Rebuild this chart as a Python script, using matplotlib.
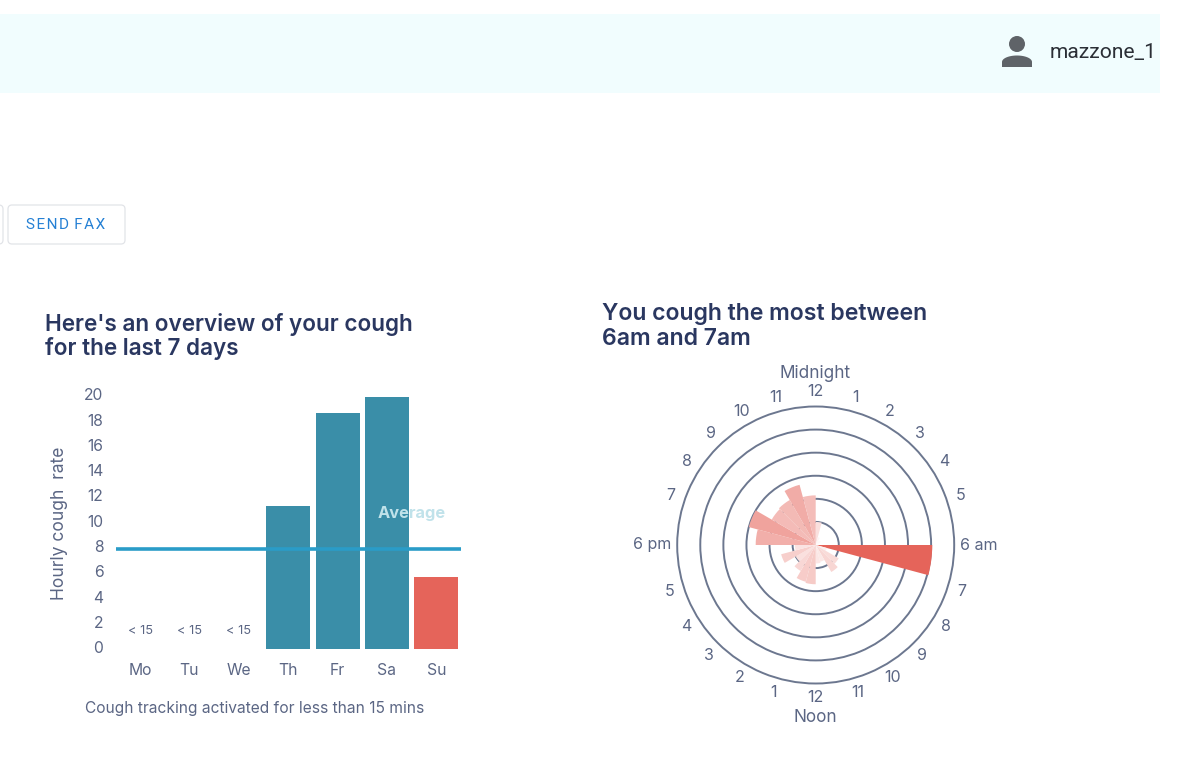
import numpy as np
import matplotlib
matplotlib.use("Agg")
import matplotlib.pyplot as plt
from matplotlib.patches import FancyBboxPatch, Circle, Polygon, Rectangle

W, H = 1200, 769

# ---- data ----
days = ["Mo", "Tu", "We", "Th", "Fr", "Sa", "Su"]
rates = [0, 0, 0, 11.3, 18.6, 19.9, 5.7]
short_label = "< 15"
short_days = [0, 1, 2]
short_label_y = 1.4
average = 7.9
y_ticks = list(range(0, 21, 2))
hour_counts = [1.0, 0.35, 0.2, 0.25, 0.15, 0.1, 5.05, 0.5, 1.15, 1.35, 0.75, 0.8,
               1.7, 1.65, 1.3, 1.0, 1.55, 0.9, 2.6, 3.0, 2.2, 2.25, 2.7, 2.15]
hour_labels = ["12", "1", "2", "3", "4", "5", "6 am", "7", "8", "9", "10", "11",
               "12", "1", "2", "3", "4", "5", "6 pm", "7", "8", "9", "10", "11"]
label_deg = [0, 15, 29, 43, 57, 71, 90, 107.5, 122, 136, 150, 164,
             180, 196, 210, 224, 238, 252.5, 270, 289, 303, 317, 331, 345]
rings = [1, 2, 3, 4, 5]
ring_max = 6

FONT = "Inter"
TXT = "#5b6684"
DARK = "#2a3760"
TEAL = "#3a8ea8"
RED = "#e5645a"
LINE = "#2a9cc8"
RING = "#6c778f"

fig = plt.figure(figsize=(W / 100, H / 100), dpi=100, facecolor="white")

bg = fig.add_axes([0, 0, 1, 1], zorder=0)
bg.set_xlim(0, W); bg.set_ylim(H, 0); bg.axis("off")
bg.add_patch(Rectangle((0, 14), 1160, 79, fc="#f1fdfe", ec="none"))
bg.add_patch(Circle((1017, 44), 8, fc="#5f6368", ec="none"))
t = np.linspace(0, np.pi, 40)
bg.add_patch(Polygon(np.c_[1017 + 15 * np.cos(t), 62 - 6.5 * np.sin(t)].tolist()
                     + [[1002, 67], [1032, 67]], closed=True, fc="#5f6368", ec="none"))
bg.text(1050, 53, "mazzone_1", family="Roboto", fontsize=15.1, color="#2b2f36", va="center", ha="left")
bg.add_patch(FancyBboxPatch((11, 208), 111, 33, boxstyle="round,pad=3,rounding_size=4",
                            fc="white", ec="#e2e4e8", lw=0.9))
bg.add_patch(FancyBboxPatch((-20, 208), 20, 33, boxstyle="round,pad=3,rounding_size=4",
                            fc="white", ec="#e2e4e8", lw=0.9))
hair = "\u200a"
bg.text(66, 225, hair.join("SEND") + " " + hair + hair.join("FAX"), family=["Roboto", "DejaVu Sans"],
        fontsize=11, color="#2580d4", ha="center", va="center")

for y, s in [(324, "Here's an overview of your cough"), (349, "for the last 7 days")]:
    bg.text(45, y, s, family=FONT, fontweight="semibold", fontsize=16.2, color=DARK, va="center")
for y, s in [(314, "You cough the most between"), (339, "6am and 7am")]:
    bg.text(602, y, s, family=FONT, fontweight="semibold", fontsize=16.6, color=DARK, va="center")
bg.text(85, 708, "Cough tracking activated for less than 15 mins", family=FONT, fontsize=11.2, color=TXT, va="center")
bg.text(815, 373, "Midnight", family=FONT, fontsize=12.4, color=TXT, ha="center", va="center")
bg.text(815, 717, "Noon", family=FONT, fontsize=12.4, color=TXT, ha="center", va="center")

# bar chart
L, R, T, B = 116, 461, 395.7, 648.7
ax = fig.add_axes([L / W, 1 - B / H, (R - L) / W, (B - T) / H], zorder=1)
ax.patch.set_alpha(0)
x = np.arange(len(days))
ax.bar(x, rates, width=0.89, color=[TEAL] * 6 + [RED])
ax.plot([-0.486, 6.5], [average, average], color=LINE, lw=2.6, solid_capstyle="butt", zorder=3)
ax.set_xlim(-0.486, 6.5); ax.set_ylim(0, 20)
ax.set_xticks(x, days, family=FONT, fontsize=11.3, color=TXT)
ax.set_yticks(y_ticks, [str(v) for v in y_ticks], family=FONT, fontsize=11.3, color=TXT)
ax.tick_params(length=0, axis="y", pad=9)
ax.tick_params(length=0, axis="x", pad=10)
for lab in ax.get_yticklabels():
    lab.set_verticalalignment("center")
for s in ax.spines.values():
    s.set_visible(False)
for i in short_days:
    ax.text(i, short_label_y, short_label, family=FONT, fontsize=9.2, color=TXT, ha="center", va="center")
ax.text(5.5, 10.7, "Average", family=FONT, fontweight="bold", fontsize=11.8, color="#c0e2ea",
        ha="center", va="center", zorder=4)
ax.set_ylabel("Hourly cough  rate", family=FONT, fontsize=12.6, color=TXT)
ax.yaxis.set_label_coords((68 - L) / (R - L), (B - 523) / (B - T))

# polar chart
cx, cy, rad = 815.7, 545, 138.5
pa = fig.add_axes([(cx - rad) / W, 1 - (cy + rad) / H, 2 * rad / W, 2 * rad / H], projection="polar", zorder=1)
pa.patch.set_alpha(0)
pa.set_theta_zero_location("N"); pa.set_theta_direction(-1)
step = 2 * np.pi / len(hour_counts)
theta = np.arange(len(hour_counts)) * step
vmax = max(hour_counts)
base = np.array(matplotlib.colors.to_rgb(RED))
cols = [tuple(1 - (1 - base) * (v / vmax)) for v in hour_counts]
pa.bar(theta, hour_counts, width=step, align="edge", color=cols, zorder=3)
pa.set_ylim(0, ring_max)
pa.set_rgrids(rings, labels=[""] * len(rings))
pa.set_xticks([])
pa.tick_params(axis="y", length=0)
pa.grid(True, axis="y", color=RING, lw=1.4)
for gl in pa.yaxis.get_gridlines():
    gl.set_solid_capstyle("butt")
pa.spines["polar"].set_color(RING); pa.spines["polar"].set_linewidth(1.4)
pa.spines["polar"].set_capstyle("butt")
for deg, lab in zip(label_deg, hour_labels):
    ha = {"6 am": "left", "6 pm": "right"}.get(lab, "center")
    r = ring_max * ((144 if len(lab) > 2 else 153) / rad)
    pa.text(np.deg2rad(deg), r, lab, family=FONT, fontsize=11.5, color=TXT, ha=ha, va="center", clip_on=False)

fig.savefig("out.png", dpi=100, facecolor="white")
